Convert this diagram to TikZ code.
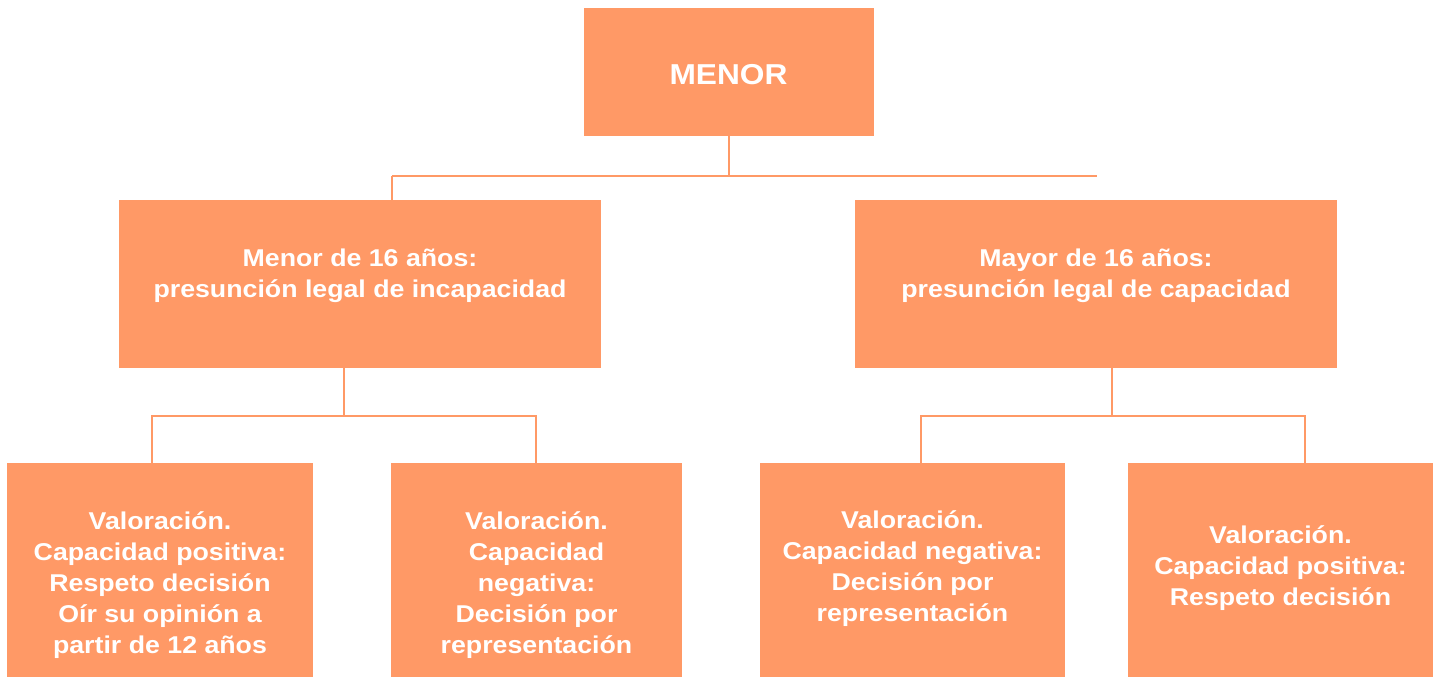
\documentclass[tikz,border=0pt]{standalone}
\usepackage{fontspec}
\setmainfont{Liberation Sans}[FakeStretch=1.1]
\definecolor{naranja}{HTML}{FF9966}

\begin{document}
\begin{tikzpicture}[x=1pt, y=-1pt,
		caja/.style={rectangle,fill=naranja,inner sep=0pt},
		texto/.style={text=white,align=center,font=\bfseries\fontsize{24.3}{31}\selectfont},
		linea/.style={draw=naranja,line width=2pt}]
		
		\useasboundingbox (0,0) rectangle (1440,677);
		
		% cajas
		\node[caja,minimum width=290,minimum height=128] (menor) at (728.5,72)  {};
		\node[caja,minimum width=482,minimum height=168] (menos16) at (360,284)  {};
		\node[caja,minimum width=482,minimum height=168] (mas16) at (1096,284)  {};
		\node[caja,minimum width=306,minimum height=214] (b1) at (160,570)  {};
		\node[caja,minimum width=291,minimum height=214] (b2) at (536.5,570)  {};
		\node[caja,minimum width=305,minimum height=214] (b3) at (912.5,570)  {};
		\node[caja,minimum width=305,minimum height=214] (b4) at (1280.5,570)  {};
		
		% textos
		\node[texto] (tmenor) at (728.5,75)  {\fontsize{28.8}{36}\selectfont MENOR};
		\node[texto] (tmenos16) at (360,276)  {Menor de 16 años:\\presunción legal de incapacidad};
		\node[texto] (tmas16) at (1096,276)  {Mayor de 16 años:\\presunción legal de capacidad};
		\node[texto] (t1) at (160,585)  {Valoración.\\Capacidad positiva:\\Respeto decisión\\Oír su opinión a\\partir de 12 años};
		\node[texto] (t2) at (536.5,585)  {Valoración.\\Capacidad\\negativa:\\Decisión por\\representación};
		\node[texto] (t3) at (912.5,569)  {Valoración.\\Capacidad negativa:\\Decisión por\\representación};
		\node[texto] (t4) at (1280.5,568)  {Valoración.\\Capacidad positiva:\\Respeto decisión};
		
		% conectores
		\coordinate (izq) at (392,176);
		\coordinate (der) at (1097,176);
		\coordinate (m1) at (344,416);
		\coordinate (a1) at (152,416);
		\coordinate (a2) at (536,416);
		\coordinate (m2) at (1112,416);
		\coordinate (a3) at (921,416);
		\coordinate (a4) at (1305,416);
		
		\draw[linea]  (menor.south) -- (menor.south |- izq);
		\draw[linea]  (izq) -- (der);
		\draw[linea]  (izq) -- (izq |- menos16.north);
		\draw[linea]  (m1 |- menos16.south) -- (m1);
		\draw[linea]  (a1 |- b1.north) -- (a1) -- (a2) -- (a2 |- b2.north);
		\draw[linea]  (m2 |- mas16.south) -- (m2);
		\draw[linea]  (a3 |- b3.north) -- (a3) -- (a4) -- (a4 |- b4.north);
		
\end{tikzpicture}
\end{document}
